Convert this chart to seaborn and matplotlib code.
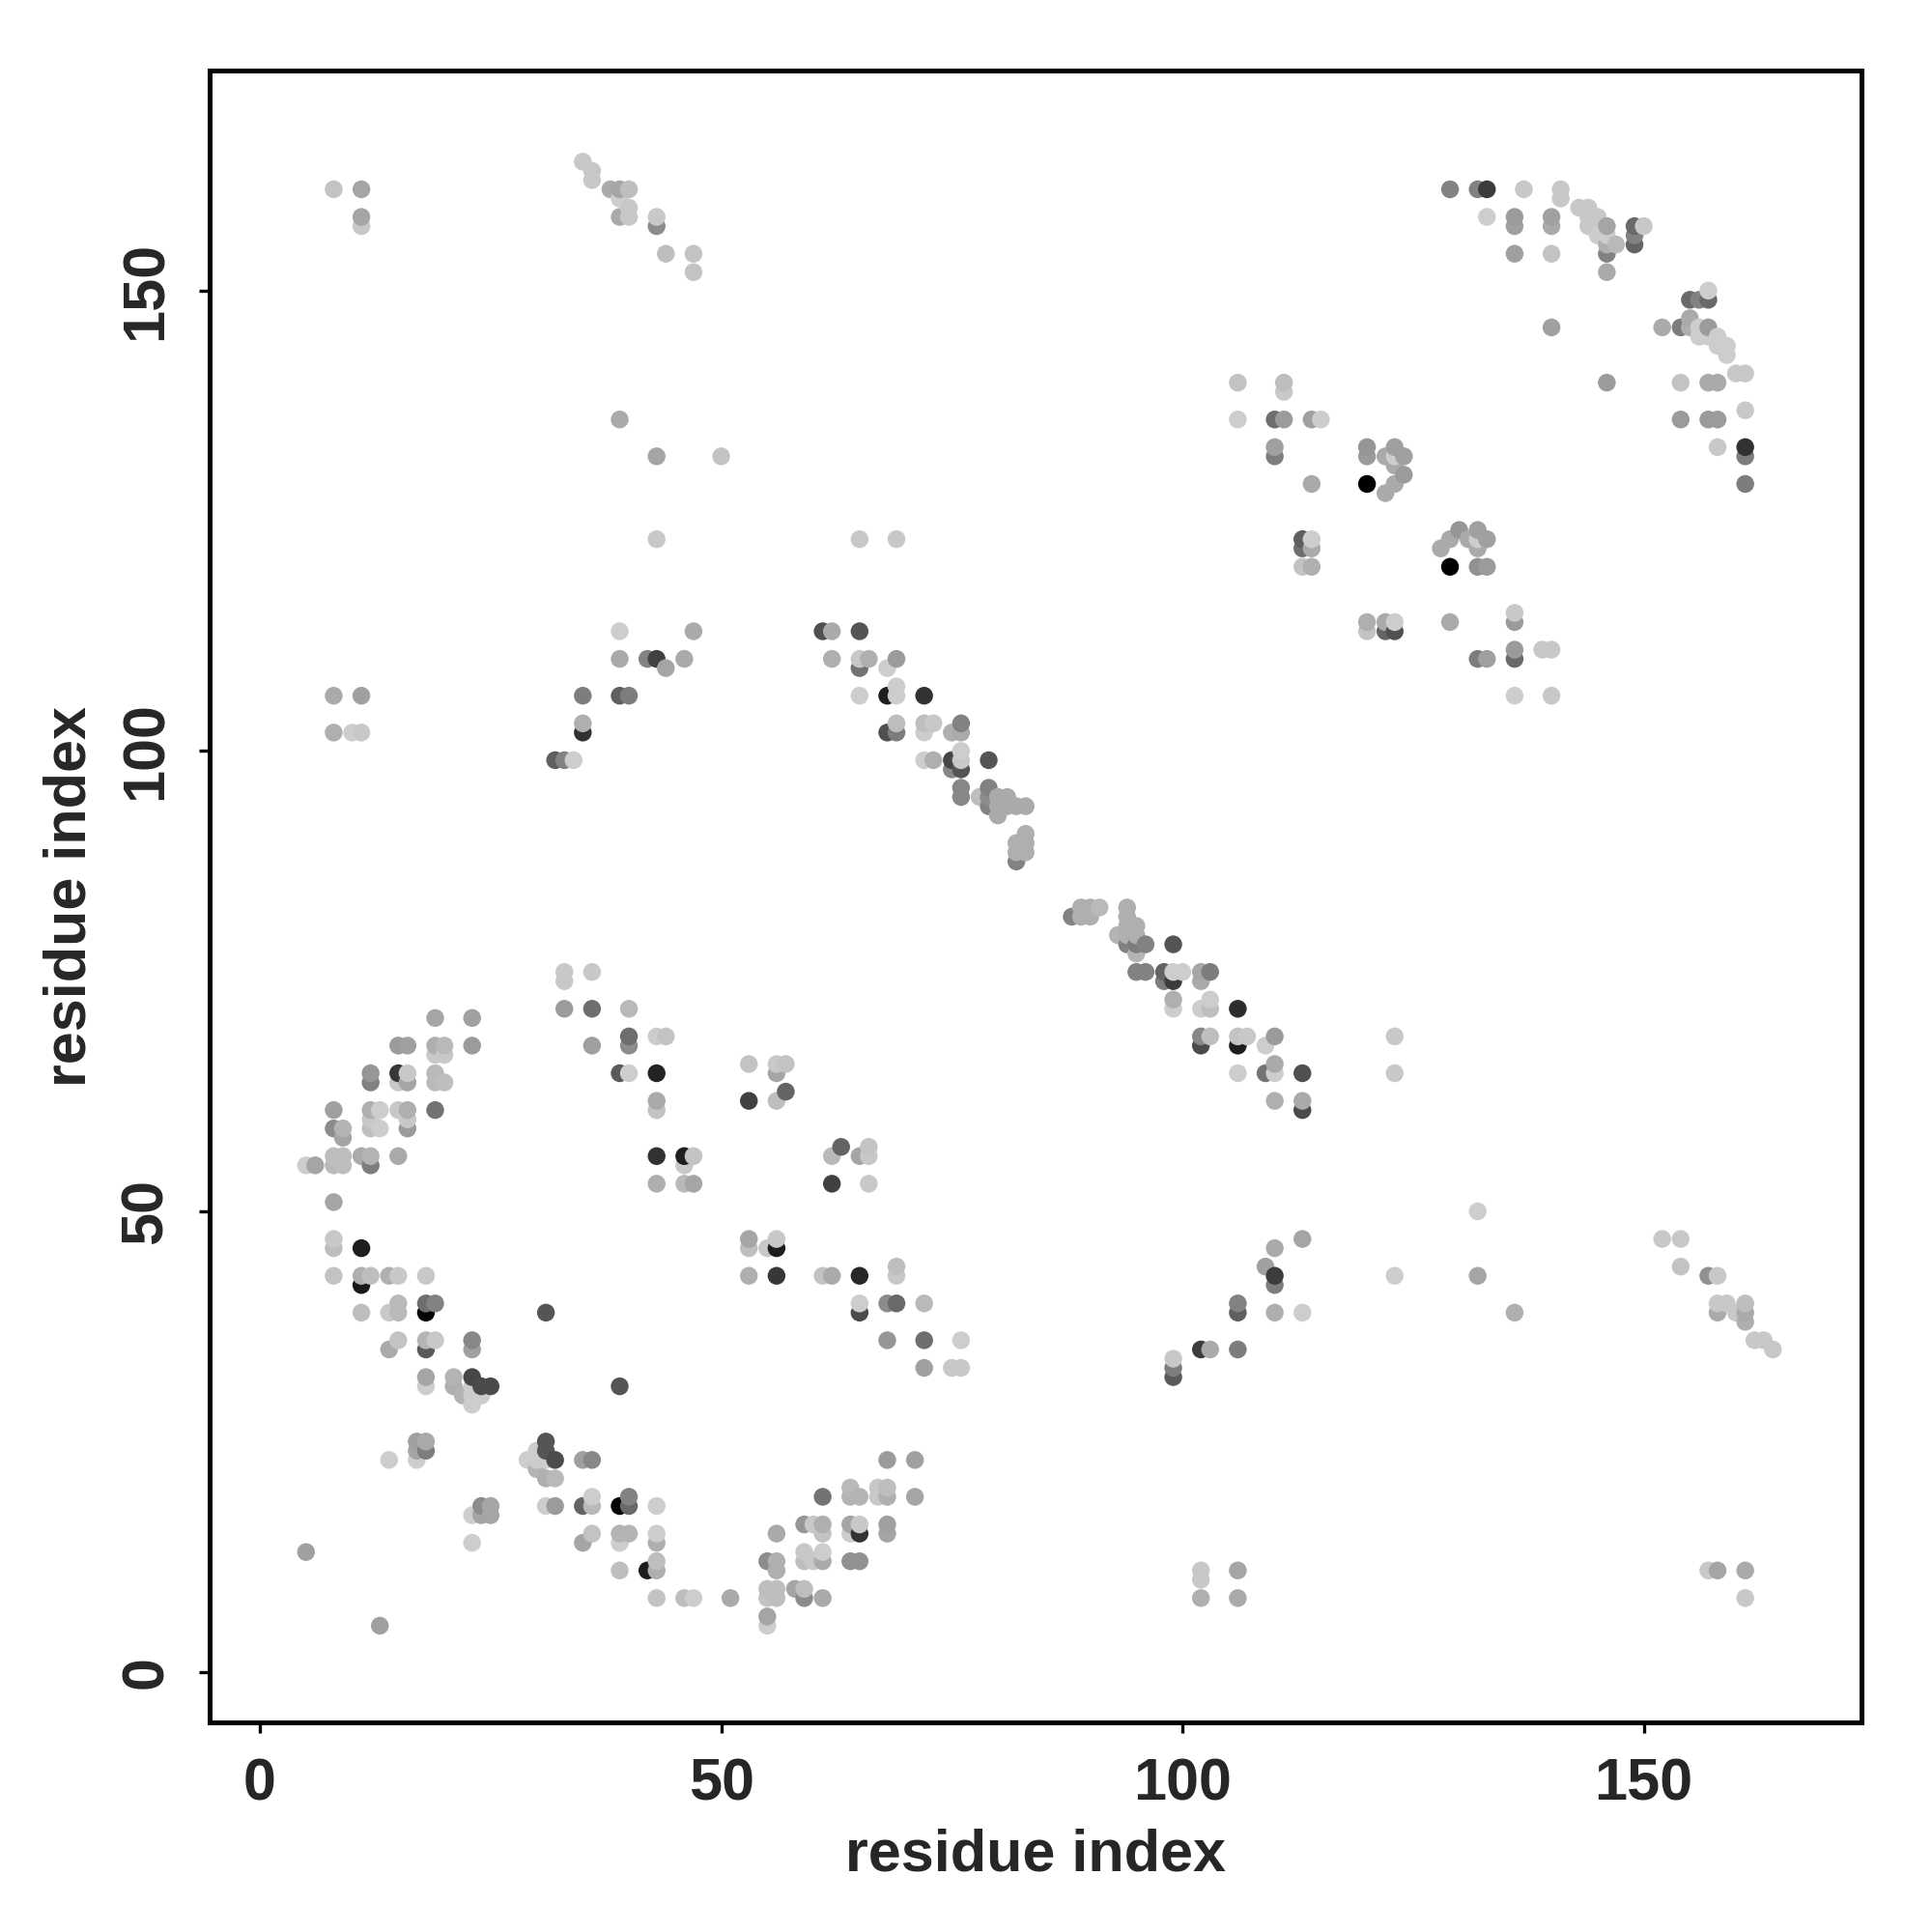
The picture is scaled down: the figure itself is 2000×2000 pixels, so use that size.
import pandas as pd
import matplotlib
matplotlib.use("Agg")
import matplotlib.pyplot as plt
import seaborn as sns

# contact map, one line per patch of the picture
res_i = [
    19, 23, 15, 16, 19, 20, 19, 20, 23, 12, 12, 15, 16, 15, 16, 19, 19, 20,
    8, 12, 13, 15, 16, 19, 8, 9, 9, 12, 12, 13, 16, 16,
    8, 9, 8, 9, 5, 6, 11, 12, 12, 15, 8, 8, 8, 11,
    8, 11, 12, 14, 15, 18, 11, 15, 15, 14, 11, 18, 19, 18, 31,
    15, 14, 18, 19, 18, 23, 23,
    33, 33, 36, 33, 36, 40, 40, 40, 36, 43, 44, 39, 40, 43, 43, 43, 43, 43,
    53, 56, 57, 56, 53, 56, 57, 46, 47, 46, 62, 63, 65, 66, 66, 46, 47, 62, 66,
    53, 53, 55, 56, 56, 53, 56, 61, 62, 65, 69, 69,
    65, 65, 68, 69, 72, 68, 72, 76, 72, 75, 76,
    18, 18, 21, 21, 23, 24, 25, 23, 23, 24, 23, 22, 39,
    17, 18, 17, 18, 17, 14, 31, 31, 30, 32, 29, 30, 31, 30, 31, 32, 35, 36,
    24, 25, 23, 24, 25, 31, 32, 35, 36, 36, 39, 40, 40, 43,
    23, 35, 36, 39, 40, 39, 43, 43, 5, 39, 42, 43, 43, 43, 13,
    46, 47, 51, 55, 56, 55, 56, 58, 59, 59, 61, 55, 55,
    55, 56, 56, 56, 59, 59, 60, 61, 61, 64, 65,
    59, 60, 61, 61, 64, 65, 65, 64, 68, 68,
    61, 64, 64, 65, 67, 68, 67, 68, 71, 68, 71,
    8, 11, 8, 10, 11, 32, 33, 34, 35, 35, 35, 39, 40,
    39, 47, 39, 42, 43, 44, 46,
    61, 62, 65, 62, 65, 66, 69, 65, 68, 65, 69, 69, 68, 72,
    69, 68, 69, 72, 73, 72, 75, 76, 76,
    72, 73, 75, 76, 76, 75, 76, 79, 76, 76,
    79, 78, 79, 79, 80, 81, 80, 81, 82, 83, 80, 83, 82, 83, 82, 83, 82,
    88, 89, 90, 91, 89, 90, 94, 94, 95, 94, 93, 94, 95, 94, 95, 96, 95, 99,
    95, 96, 98, 98, 99, 99, 100, 102, 103, 102,
    99, 99, 102, 103, 103, 106, 102, 103, 102, 106, 107, 106, 109, 110,
    106, 109, 110, 110, 113, 110, 113, 113,
    99, 99, 99, 102, 103, 106, 106, 106, 110, 113, 109, 110, 110, 110, 113,
    123, 132, 132, 136, 123, 123,
    152, 154, 154, 157, 158, 158, 159, 161, 158, 160, 161, 161, 162, 163, 164,
    102, 102, 106, 102, 106, 157, 158, 161, 161,
    8, 11, 11, 11, 35, 36, 36, 38, 39, 40, 39, 40, 39, 40, 43, 43,
    44, 47, 47, 39, 43, 50, 43, 65, 69,
    106, 111, 111, 106, 110, 111, 114, 115, 110, 110, 114,
    120, 120, 120, 123, 122, 123, 124, 123, 124, 123, 122,
    130, 129, 128, 132, 131, 132, 133, 132, 129, 132, 133,
    113, 114, 113, 114, 113, 114,
    120, 120, 122, 123, 122, 123, 129, 136, 136, 136, 136, 132, 133, 139, 140, 136, 140,
    129, 132, 133, 137, 141, 141, 133, 136, 136, 140, 140, 136, 140,
    143, 144, 145, 144, 144, 145, 146, 146, 147, 146, 146, 146,
    149, 150, 149, 149, 140,
    152, 154, 155, 155, 155, 156, 157, 157, 156, 156, 157, 157, 158, 159, 158, 159,
    160, 161, 146, 154, 157, 158, 161, 154, 157, 158, 158, 161, 161, 161,
]
res_j = [
    71, 71, 68, 68, 68, 68, 67, 67, 68, 65, 64, 65, 65, 64, 64, 65, 64, 64,
    61, 61, 61, 61, 61, 61, 59, 59, 58, 60, 59, 59, 60, 59,
    56, 56, 55, 55, 55, 55, 56, 56, 55, 56, 51, 47, 46, 46,
    43, 43, 43, 43, 43, 43, 42, 40, 39, 39, 39, 40, 40, 39, 39,
    36, 35, 36, 36, 35, 36, 35,
    76, 75, 76, 72, 72, 72, 69, 68, 68, 69, 69, 65, 65, 65, 62, 61, 56, 53,
    66, 66, 66, 65, 62, 62, 63, 56, 56, 55, 56, 57, 56, 56, 57, 53, 53, 53, 53,
    47, 46, 46, 47, 46, 43, 43, 43, 43, 43, 44, 43,
    40, 39, 40, 40, 40, 36, 36, 36, 33, 33, 33,
    32, 31, 32, 31, 32, 31, 31, 31, 30, 30, 29, 30, 31,
    25, 25, 24, 24, 23, 23, 25, 24, 24, 23, 23, 23, 23, 22, 21, 21, 23, 23,
    18, 18, 17, 17, 17, 18, 18, 18, 18, 19, 18, 19, 18, 18,
    14, 14, 15, 15, 15, 14, 15, 14, 13, 11, 11, 12, 11, 8, 5,
    8, 8, 8, 8, 8, 9, 9, 9, 9, 8, 8, 6, 5,
    12, 12, 11, 15, 13, 12, 12, 13, 12, 12, 12,
    16, 16, 16, 15, 16, 16, 15, 15, 16, 15,
    19, 20, 19, 19, 20, 20, 19, 19, 19, 23, 23,
    106, 106, 102, 102, 102, 99, 99, 99, 106, 103, 102, 106, 106,
    113, 113, 110, 110, 110, 109, 110,
    113, 113, 113, 110, 110, 110, 110, 109, 109, 106, 106, 107, 106, 106,
    103, 102, 102, 103, 103, 102, 102, 103, 102,
    99, 99, 99, 99, 100, 98, 98, 99, 96, 95,
    96, 95, 95, 94, 95, 95, 94, 94, 94, 94, 93, 91, 90, 90, 89, 89, 88,
    82, 83, 83, 83, 82, 82, 83, 82, 81, 81, 80, 80, 80, 79, 79, 79, 78, 79,
    76, 76, 76, 75, 75, 76, 76, 76, 76, 75,
    73, 72, 72, 73, 72, 72, 69, 69, 68, 69, 69, 68, 68, 69,
    65, 65, 66, 65, 65, 62, 62, 61,
    34, 33, 32, 35, 35, 35, 40, 39, 39, 39, 44, 43, 42, 46, 47,
    43, 43, 50, 39, 69, 65,
    47, 47, 44, 43, 43, 40, 40, 40, 39, 39, 39, 38, 36, 36, 35,
    11, 10, 11, 8, 8, 11, 11, 11, 8,
    161, 161, 158, 157, 164, 163, 162, 161, 161, 161, 160, 159, 158, 158, 158, 157,
    154, 154, 152, 136, 132, 132, 123, 123, 123,
    140, 140, 139, 136, 136, 136, 136, 136, 133, 132, 129,
    133, 132, 129, 133, 132, 132, 132, 131, 130, 129, 128,
    124, 123, 122, 124, 123, 123, 123, 122, 120, 120, 120,
    123, 123, 122, 122, 120, 120,
    114, 113, 114, 114, 113, 113, 114, 115, 114, 111, 110, 110, 110, 111, 111, 106, 106,
    161, 161, 161, 161, 161, 160, 158, 158, 157, 158, 157, 154, 154,
    159, 159, 158, 158, 157, 156, 157, 155, 155, 154, 152, 156,
    157, 157, 156, 155, 146,
    146, 146, 147, 146, 149, 149, 149, 150, 146, 145, 146, 145, 145, 144, 144, 143,
    141, 141, 140, 140, 140, 140, 137, 136, 136, 136, 133, 133, 132, 129,
]
grey = [
    165, 160, 155, 160, 175, 185, 200, 200, 155, 150, 130, 55, 200, 200, 165, 185, 185, 190,
    160, 175, 205, 200, 175, 115, 140, 180, 165, 200, 190, 205, 200, 155,
    190, 190, 185, 190, 205, 165, 170, 180, 125, 170, 165, 200, 190, 30,
    195, 175, 190, 175, 200, 200, 25, 185, 185, 200, 190, 110, 130, 5, 85,
    195, 170, 180, 200, 90, 135, 160,
    200, 200, 200, 155, 110, 185, 110, 140, 160, 205, 195, 90, 205, 35, 170, 195, 50, 175,
    195, 200, 195, 165, 65, 190, 100, 30, 195, 200, 185, 100, 165, 200, 195, 185, 165, 65, 200,
    165, 190, 200, 200, 30, 175, 55, 195, 170, 40, 190, 200,
    205, 75, 140, 105, 185, 150, 110, 205, 160, 200, 200,
    165, 205, 180, 175, 70, 75, 75, 205, 205, 205, 205, 180, 85,
    160, 170, 165, 125, 205, 205, 85, 85, 205, 75, 205, 205, 205, 180, 175, 185, 160, 135,
    140, 165, 205, 165, 165, 205, 155, 100, 185, 205, 5, 130, 105, 205,
    205, 165, 195, 180, 180, 205, 205, 175, 160, 190, 30, 190, 175, 195, 160,
    190, 205, 170, 195, 190, 190, 190, 165, 190, 140, 170, 165, 205,
    140, 175, 175, 170, 200, 190, 200, 205, 170, 145, 145,
    150, 200, 175, 195, 165, 200, 50, 205, 160, 165,
    115, 185, 180, 180, 200, 190, 200, 175, 165, 155, 160,
    170, 160, 175, 205, 200, 95, 130, 205, 125, 175, 50, 95, 125,
    205, 170, 170, 130, 65, 165, 170,
    80, 170, 85, 175, 200, 175, 155, 115, 205, 205, 205, 205, 30, 50,
    190, 80, 125, 190, 200, 205, 175, 130, 170,
    205, 175, 70, 200, 205, 135, 85, 85, 135, 135,
    130, 190, 140, 130, 170, 170, 170, 170, 170, 170, 170, 175, 175, 175, 175, 175, 130,
    130, 175, 175, 185, 175, 175, 175, 175, 175, 175, 180, 175, 175, 130, 125, 130, 180, 85,
    130, 130, 100, 125, 60, 205, 205, 165, 125, 170,
    175, 205, 205, 205, 190, 45, 135, 190, 75, 195, 200, 30, 205, 155,
    205, 115, 170, 205, 80, 175, 170, 75,
    200, 125, 90, 60, 170, 125, 130, 95, 175, 205, 160, 60, 125, 170, 165,
    205, 165, 205, 175, 200, 200,
    200, 200, 195, 145, 200, 200, 200, 190, 170, 200, 170, 175, 200, 200, 200,
    200, 200, 165, 175, 170, 200, 165, 170, 200,
    195, 165, 165, 200, 200, 200, 200, 170, 165, 190, 205, 200, 170, 200, 200, 140,
    190, 195, 195, 170, 165, 195, 200, 200, 200,
    195, 190, 200, 205, 110, 155, 160, 205, 160, 125, 170,
    150, 155, 0, 160, 170, 205, 160, 170, 155, 170, 170,
    150, 170, 170, 160, 170, 205, 160, 170, 0, 145, 155,
    95, 205, 110, 170, 195, 175,
    175, 195, 170, 205, 100, 80, 170, 200, 155, 155, 105, 125, 160, 200, 200, 205, 200,
    130, 130, 60, 200, 200, 200, 205, 155, 160, 160, 170, 160, 195,
    200, 200, 200, 200, 200, 205, 165, 175, 185, 130, 170, 205,
    105, 200, 130, 100, 160,
    170, 125, 170, 175, 105, 130, 105, 205, 205, 205, 155, 205, 205, 205, 205, 205,
    200, 200, 155, 195, 170, 170, 200, 155, 155, 155, 200, 50, 125, 125,
]

df = pd.DataFrame({"i": res_i, "j": res_j, "grey": grey})
df = df.sort_values(["i", "j"], kind="stable")

sns.set_style("white")
plt.rcParams["font.family"] = ["Liberation Sans", "DejaVu Sans"]

fig = plt.figure(figsize=(10, 10), dpi=200)
ax = fig.add_axes([0.1085, 0.1085, 0.855, 0.855])
sns.scatterplot(data=df, x="i", y="j", hue="grey", palette="gray", hue_norm=(0, 255),
                s=44, linewidth=0, legend=False, ax=ax)

ax.set_xlim(-5.45, 173.6)
ax.set_ylim(-5.5, 173.9)
ax.set_xticks([0, 50, 100, 150])
ax.set_yticks([0, 50, 100, 150])
ax.tick_params(axis="both", length=4, width=1.2, color="black", left=True, bottom=True,
               labelsize=22, pad=9)
for lab in ax.get_xticklabels() + ax.get_yticklabels():
    lab.set_fontweight("bold")
for lab in ax.get_yticklabels():
    lab.set_rotation(90)
    lab.set_va("center")
ax.set_xlabel("residue index", fontsize=22, fontweight="bold", labelpad=6)
ax.set_ylabel("residue index", fontsize=22, fontweight="bold", labelpad=8)
for s in ax.spines.values():
    s.set_linewidth(1.8)
    s.set_color("black")

fig.savefig("out.png", dpi=200)
